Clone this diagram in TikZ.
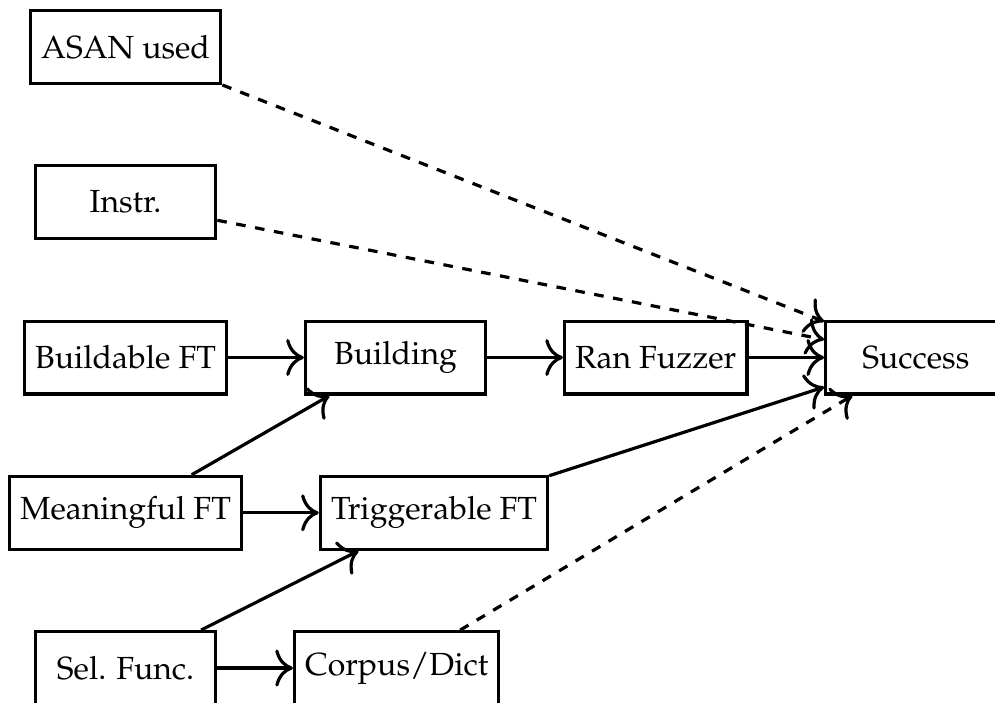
\documentclass[tikz,border=0pt]{standalone}
\usepackage[T1]{fontenc}
\usepackage{mathpazo}
\usetikzlibrary{positioning,calc,arrows.meta}

\tikzset{
	stage/.style={draw, line width=1pt, minimum width=1.98cm, minimum height=0.8cm},
	flow/.style={-{To[scale=1.45]}, line width=1pt},
	hint/.style={flow, dashed}
}

\begin{document}
\begin{tikzpicture}[node distance=0.87cm and 0.83cm]
\node[stage] (asan) {ASAN used};
\node[stage, below=of asan] (instr) {Instr.};
\node[stage, below=of instr] (buildable) {Buildable FT};
\node[stage, right=of buildable] (building) {Building};
\node[stage, right=of building] (fuzzer) {Ran Fuzzer};
\node[stage, right=of fuzzer] (success) {Success};
\node[stage, below=of buildable] (meaningful) {Meaningful FT};
\node[stage, right=of meaningful] (trigger) {Triggerable FT};
\node[stage, below=of meaningful] (selfunc) {Sel. Func.};
\node[stage, right=of selfunc] (corpus) {Corpus/Dict};

\draw[flow] (buildable) -- (building);
\draw[flow] (building) -- (fuzzer);
\draw[flow] (fuzzer) -- (success);
\draw[flow] (meaningful) -- (building);
\draw[flow] (meaningful) -- (trigger);
\draw[flow] (trigger) -- (success);
\draw[flow] (selfunc) -- (trigger);
\draw[flow] (selfunc) -- (corpus);

% optional factors
\draw[hint] (asan) -- (success);
\draw[hint] (instr) -- (success);
\draw[hint] (corpus) -- (success);

\pgfresetboundingbox
\path[use as bounding box] ($(meaningful.west |- asan.north)+(-2.5pt,2.8pt)$) rectangle ++(310.9pt,-219.4pt);
\end{tikzpicture}
\end{document}
